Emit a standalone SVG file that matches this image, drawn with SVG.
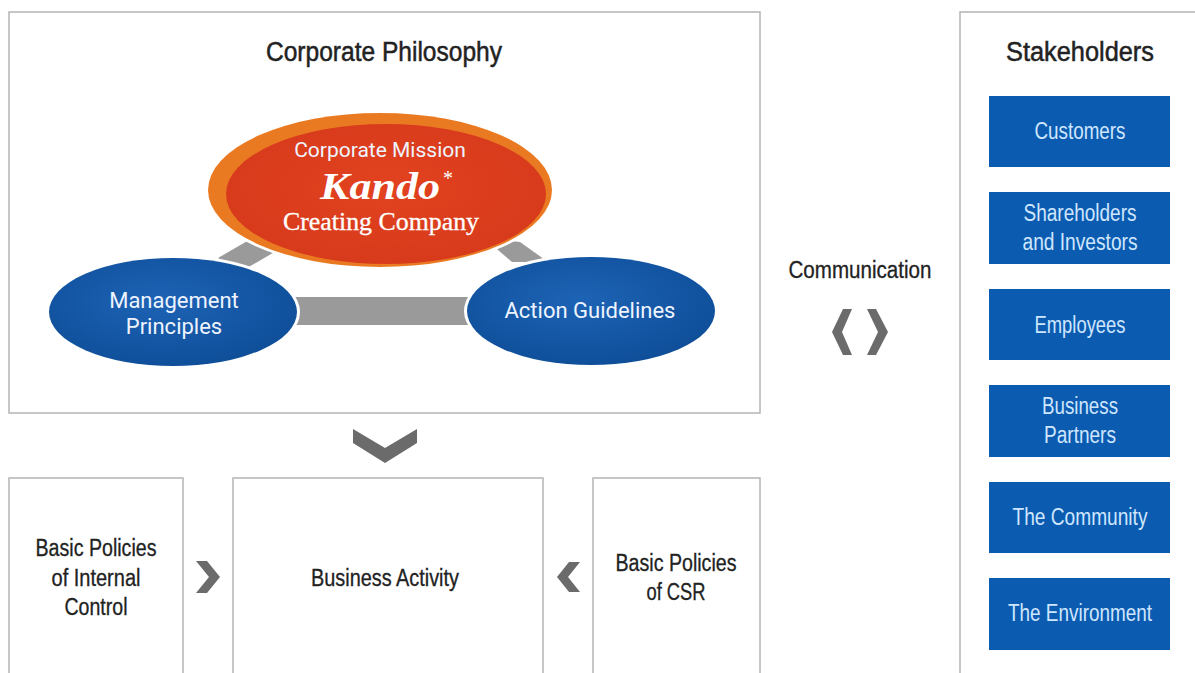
<svg xmlns="http://www.w3.org/2000/svg" width="1195" height="673" viewBox="0 0 1195 673">
<defs>
<style>
.box{fill:#fff;stroke:#b4b4b4;stroke-width:1.5}
.title{font-family:"Liberation Sans",Arial,sans-serif;font-size:27px;fill:#222;stroke:#222;stroke-width:0.5;text-anchor:middle}
.lbl{font-family:"Liberation Sans",Arial,sans-serif;font-size:23px;fill:#222;stroke:#222;stroke-width:0.3;text-anchor:middle}
.sk{fill:#0b5cb0}
.skt{font-family:"Liberation Sans",Arial,sans-serif;font-size:23px;fill:#cfe6ff;text-anchor:middle}
.ell{font-family:Roboto,"Liberation Sans",sans-serif;font-size:22px;fill:#eef4ff;text-anchor:middle}
.chev{fill:#6b6b6b}
.bar{fill:#9a9a9a}
</style>
<radialGradient id="gBlue" cx="0.45" cy="0.4" r="0.6">
<stop offset="0" stop-color="#1d63b5"/><stop offset="1" stop-color="#0f4f9a"/>
</radialGradient>
<radialGradient id="gRed" cx="0.5" cy="0.45" r="0.6">
<stop offset="0" stop-color="#e2421f"/><stop offset="1" stop-color="#d63a1b"/>
</radialGradient>
</defs>
<g id="philosophy">
<rect class="box" x="9" y="12" width="751" height="401"/>
<text class="title" x="384" y="61" textLength="236" lengthAdjust="spacingAndGlyphs">Corporate Philosophy</text>
</g>
<g id="connectors">
<polygon class="bar" points="218,258 256,236 278,250 240,272"/>
<polygon class="bar" points="484,238 520,242 548,262 512,262"/>
<rect class="bar" x="285" y="297" width="190" height="28"/>
<polygon class="chev" points="353,429 385,448 417,429 417,443 385,463 353,443"/>
<polygon class="chev" points="196,561 207,561 220,577 207,593 196,593 209,577"/>
<polygon class="chev" points="580,562 569,562 557,577 569,592 580,592 568,577"/>
<polygon class="chev" points="843,309 852,309 842,332 852,355 843,355 832,332"/>
<polygon class="chev" points="867,309 876,309 888,332 876,355 867,355 878,332"/>
<text class="lbl" x="860" y="278" textLength="143" lengthAdjust="spacingAndGlyphs">Communication</text>
</g>
<g id="mission">
<ellipse cx="380" cy="190" rx="175" ry="80" fill="#fff"/>
<ellipse cx="380" cy="190" rx="172" ry="77" fill="#ea7a22"/>
<ellipse cx="386" cy="194" rx="160" ry="70" fill="url(#gRed)"/>
<text class="ell" x="380" y="157" style="font-size:21px">Corporate Mission</text>
<text x="380" y="199" textLength="120" lengthAdjust="spacingAndGlyphs" style="font-family:'Liberation Serif',serif;font-style:italic;font-weight:bold;font-size:38px;fill:#fff;text-anchor:middle">Kando</text>
<text x="443" y="185" style="font-family:'Liberation Serif',serif;font-size:20px;fill:#fff">*</text>
<text x="381" y="230" textLength="196" lengthAdjust="spacingAndGlyphs" style="font-family:'Liberation Serif',serif;font-size:26px;fill:#fff;stroke:#fff;stroke-width:0.3;text-anchor:middle">Creating Company</text>
</g>
<g id="management">
<ellipse cx="173" cy="312" rx="127" ry="57" fill="#fff"/>
<ellipse cx="173" cy="312" rx="124" ry="54" fill="url(#gBlue)"/>
<text class="ell" x="174" y="308">Management</text>
<text class="ell" x="174" y="334">Principles</text>
</g>
<g id="action">
<ellipse cx="591" cy="311" rx="127" ry="57" fill="#fff"/>
<ellipse cx="591" cy="311" rx="124" ry="54" fill="url(#gBlue)"/>
<text class="ell" x="590" y="318">Action Guidelines</text>
</g>
<g id="internal">
<rect class="box" x="9" y="478" width="174" height="200"/>
<text class="lbl" x="96" y="556" textLength="121" lengthAdjust="spacingAndGlyphs">Basic Policies</text>
<text class="lbl" x="96" y="586" textLength="89" lengthAdjust="spacingAndGlyphs">of Internal</text>
<text class="lbl" x="96" y="615" textLength="63" lengthAdjust="spacingAndGlyphs">Control</text>
</g>
<g id="business">
<rect class="box" x="233" y="478" width="310" height="200"/>
<text class="lbl" x="385" y="586" textLength="148" lengthAdjust="spacingAndGlyphs">Business Activity</text>
</g>
<g id="csr">
<rect class="box" x="593" y="478" width="167" height="200"/>
<text class="lbl" x="676" y="571" textLength="121" lengthAdjust="spacingAndGlyphs">Basic Policies</text>
<text class="lbl" x="676" y="600" textLength="59" lengthAdjust="spacingAndGlyphs">of CSR</text>
</g>
<g id="stakeholders">
<rect class="box" x="960" y="12" width="250" height="670"/>
<text class="title" x="1080" y="61" textLength="148" lengthAdjust="spacingAndGlyphs">Stakeholders</text>
</g>
<g id="customers"><rect class="sk" x="989" y="96" width="181" height="71"/><text class="skt" x="1080" y="139" textLength="91" lengthAdjust="spacingAndGlyphs">Customers</text></g>
<g id="shareholders"><rect class="sk" x="989" y="192" width="181" height="72"/><text class="skt" x="1080" y="221" textLength="113" lengthAdjust="spacingAndGlyphs">Shareholders</text><text class="skt" x="1080" y="250" textLength="115" lengthAdjust="spacingAndGlyphs">and Investors</text></g>
<g id="employees"><rect class="sk" x="989" y="289" width="181" height="71"/><text class="skt" x="1080" y="333" textLength="91" lengthAdjust="spacingAndGlyphs">Employees</text></g>
<g id="partners"><rect class="sk" x="989" y="385" width="181" height="72"/><text class="skt" x="1080" y="414" textLength="76" lengthAdjust="spacingAndGlyphs">Business</text><text class="skt" x="1080" y="443" textLength="72" lengthAdjust="spacingAndGlyphs">Partners</text></g>
<g id="community"><rect class="sk" x="989" y="482" width="181" height="71"/><text class="skt" x="1080" y="525" textLength="135" lengthAdjust="spacingAndGlyphs">The Community</text></g>
<g id="environment"><rect class="sk" x="989" y="578" width="181" height="72"/><text class="skt" x="1080" y="621" textLength="144" lengthAdjust="spacingAndGlyphs">The Environment</text></g>
</svg>
